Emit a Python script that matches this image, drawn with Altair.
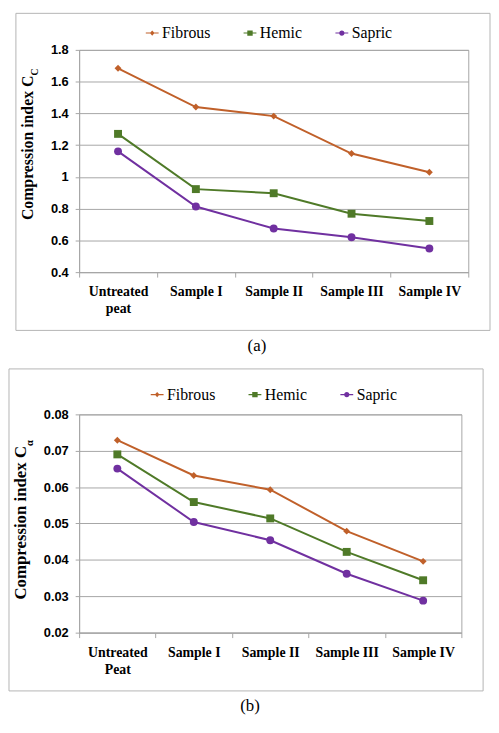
import altair as alt
import pandas as pd

categories_a = ["Untreated|peat", "Sample I", "Sample II", "Sample III", "Sample IV"]
categories_b = ["Untreated|Peat", "Sample I", "Sample II", "Sample III", "Sample IV"]
series = ["Fibrous", "Hemic", "Sapric"]

cc_fibrous = [1.684, 1.440, 1.383, 1.147, 1.029]
cc_hemic = [1.271, 0.923, 0.897, 0.768, 0.722]
cc_sapric = [1.161, 0.813, 0.675, 0.620, 0.549]

ca_fibrous = [0.0729, 0.0632, 0.0593, 0.0479, 0.0396]
ca_hemic = [0.0690, 0.0559, 0.0514, 0.0422, 0.0344]
ca_sapric = [0.0651, 0.0504, 0.0454, 0.0362, 0.0288]

ticks_a = [0.4, 0.6, 0.8, 1.0, 1.2, 1.4, 1.6, 1.8]
ticks_b = [0.02, 0.03, 0.04, 0.05, 0.06, 0.07, 0.08]

colors = ["#C0602A", "#4F7A28", "#7030A0"]
marker_shapes = ["diamond", "square", "circle"]
marker_sizes = [49, 64, 64]
legend_paths = [
    "M-1,-0.08H1V0.08H-1Z M0,-0.42L0.36,0L0,0.42L-0.36,0Z",
    "M-1,-0.08H1V0.08H-1Z M-0.42,-0.42H0.42V0.42H-0.42Z",
    "M-1,-0.08H1V0.08H-1Z M-0.42,0A0.42,0.42 0 1,1 0.42,0A0.42,0.42 0 1,1 -0.42,0Z",
]

GRAY = "#a6a6a6"
SERIF = "Liberation Serif"
SANS = "Liberation Sans"


def panel(cats, vals, domain, tick_vals, w, h, frame, title_main, title_sub,
          title_pos, tag, tag_pos, leg_pos, title_size):
    rows = []
    for s, v in zip(series, vals):
        for c, y in zip(cats, v):
            rows.append({"cat": c, "series": s, "value": y})
    df = pd.DataFrame(rows)
    base = alt.Chart(df)

    x = alt.X(
        "cat:N", sort=cats,
        scale=alt.Scale(type="band", paddingInner=0, paddingOuter=0),
        axis=alt.Axis(
            title=None, labelExpr="split(datum.label, '|')", labelAngle=0,
            labelFont=SERIF, labelFontWeight="bold",
            labelFontSize=14,
            labelColor="black", labelBaseline="top", labelPadding=8, labelLineHeight=17,
            tickBand="extent", tickColor=GRAY, tickSize=5, domainColor=GRAY, grid=False,
        ),
    )
    y = alt.Y(
        "value:Q",
        scale=alt.Scale(domain=domain, nice=False, zero=False),
        axis=alt.Axis(
            title=None, values=tick_vals, format="~g",
            labelFont=SANS, labelFontWeight="bold", labelFontSize=13, labelColor="black",
            labelPadding=7, tickSize=4, tickColor=GRAY, domainColor=GRAY,
            gridColor=GRAY, gridWidth=1,
        ),
    )
    color = alt.Color("series:N", scale=alt.Scale(domain=series, range=colors), legend=None)

    lines = base.mark_line(strokeWidth=2).encode(x=x, y=y, color=color)
    pts = [
        base.transform_filter(alt.datum.series == s)
        .mark_point(shape=sh, filled=True, size=sz, opacity=1)
        .encode(x=x, y=y, color=color)
        for s, sh, sz in zip(series, marker_shapes, marker_sizes)
    ]

    leg = alt.Legend(
        title=None, orient="none", legendX=leg_pos[0], legendY=leg_pos[1],
        direction="horizontal", columnPadding=32, labelFont=SERIF, labelFontSize=16,
        labelColor="black", labelOffset=2, symbolSize=169, symbolStrokeWidth=0,
        padding=0,
    )
    legend_layer = (
        alt.Chart(pd.DataFrame({"series": series}))
        .transform_filter(alt.datum.series == "none")
        .mark_point(filled=True, opacity=1)
        .encode(
            color=alt.Color("series:N", scale=alt.Scale(domain=series, range=colors), legend=leg),
            shape=alt.Shape("series:N", scale=alt.Scale(domain=series, range=legend_paths), legend=leg),
        )
    )

    one = alt.Chart(pd.DataFrame({"k": [0]}))
    frame_rect = one.mark_rect(filled=False, stroke="#b4b4b4", strokeWidth=1).encode(
        x=alt.value(frame[0]), x2=alt.value(frame[1]), y=alt.value(frame[2]), y2=alt.value(frame[3])
    )
    t_main = one.mark_text(
        text=title_main, angle=270, align="right", baseline="middle",
        font=SERIF, fontWeight="bold", fontSize=title_size, color="black",
    ).encode(x=alt.value(title_pos[0]), y=alt.value(title_pos[1]))
    t_sub = one.mark_text(
        text=title_sub, angle=270, align="left", baseline="middle",
        font=SERIF, fontWeight="bold", fontSize=title_size * 0.62, color="black",
    ).encode(x=alt.value(title_pos[2]), y=alt.value(title_pos[1]))
    t_tag = one.mark_text(
        text=tag, align="center", baseline="middle", font=SERIF, fontSize=17, color="black",
    ).encode(x=alt.value(tag_pos[0]), y=alt.value(tag_pos[1]))

    return (
        alt.layer(frame_rect, lines, *pts, legend_layer, t_main, t_sub, t_tag)
        .resolve_scale(color="independent", shape="independent")
        .properties(width=w, height=h)
    )


pa = panel(categories_a, [cc_fibrous, cc_hemic, cc_sapric], [0.4, 1.8], ticks_a, 394, 225,
           (-64, 416, -37, 284), "Compression index C", "C", (-51.5, 26, -44.5),
           "(a)", (180, 300), (66, -25), 16)
pb = panel(categories_b, [ca_fibrous, ca_hemic, ca_sapric], [0.02, 0.08], ticks_b, 387, 221,
           (-71, 409, -46, 280), "Compression index C", "α", (-58.5, 32, -50),
           "(b)", (173, 295), (71, -28), 17)

chart = (
    alt.concat(pa, pb, columns=1, spacing=13)
    .resolve_scale(color="independent", shape="independent", x="independent", y="independent")
    .resolve_legend(color="independent", shape="independent")
    .properties(padding=0, align="none")
    .configure_view(stroke=GRAY)
)

chart.save("out.html", embed_options={"renderer": "svg", "actions": False})
